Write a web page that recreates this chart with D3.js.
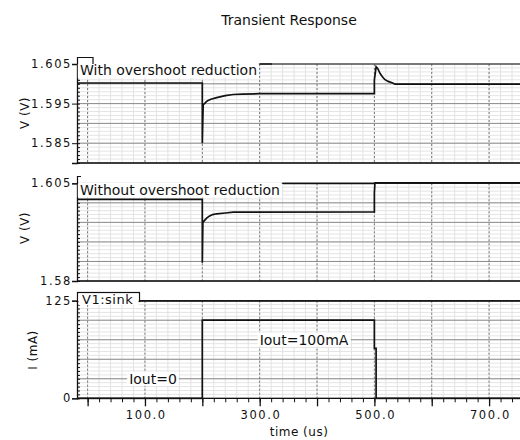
<!DOCTYPE html>
<html><head><meta charset="utf-8">
<script src="https://cdn.jsdelivr.net/npm/d3@7"></script>
<style>body{margin:0;background:#fff}svg{display:block}text{font-family:"DejaVu Sans",sans-serif}</style>
</head><body>
<svg id="c" width="520" height="440"></svg>
<script>
// ---- data ----
const xTickLabels = [100, 300, 500, 700];
const timeWith = [-18.5, 200, 200, 201.5, 204, 207, 210, 215, 225, 240, 254, 270, 300, 500, 500, 503, 506, 510, 514, 518, 524, 532, 536, 760];
const vWith    = [1.6002, 1.6002, 1.585, 1.5948, 1.5950, 1.5955, 1.5958, 1.5961, 1.5965, 1.5970, 1.5973, 1.5974, 1.5975, 1.5975, 1.6010, 1.6043, 1.6038, 1.6026, 1.6018, 1.6011, 1.6006, 1.6002, 1.5999, 1.5999];
const timeWithout = [-18.5, 200, 200, 201, 204, 207.5, 212, 218, 225, 240, 254, 500, 500, 501, 760];
const vWithout    = [1.6009, 1.6009, 1.5847, 1.5950, 1.5955, 1.5961, 1.5966, 1.5970, 1.5972, 1.5974, 1.5976, 1.5977, 1.6025, 1.6051, 1.6051];
const timeI = [-18.5, 200, 200, 500, 500, 503, 503, 760];
const iSink = [0, 0, 100, 100, 64, 64, 0, 0];
const panel1Ticks = [1.605, 1.595, 1.585];
const panel2Ticks = [1.605, 1.58];
const panel3Ticks = [125, 0];

const svg = d3.select("#c");
const X0 = 77, X1 = 523.5;
const x = d3.scaleLinear().domain([-18.5, 760]).range([X0, X1]);
const LS = 1.6; // tick label letter spacing

svg.append("text").attr("x", 289).attr("y", 25).attr("text-anchor", "middle")
  .attr("font-size", 14).attr("fill", "#111").text("Transient Response");

const defs = svg.append("defs");

function panel(opt) {
  const y = d3.scaleLinear().domain(opt.domain).range([opt.bottom, opt.top]);
  const g = svg.append("g");
  const cid = "clip" + opt.id;
  defs.append("clipPath").attr("id", cid).append("rect")
    .attr("x", X0).attr("y", opt.top - 1.5).attr("width", X1 - X0).attr("height", opt.bottom - opt.top + 3);
  const minorY = d3.range(opt.domain[0], opt.domain[1] + opt.minor / 2, opt.minor);
  g.selectAll(".mh").data(minorY).join("line")
    .attr("x1", X0).attr("x2", X1).attr("y1", d => y(d)).attr("y2", d => y(d))
    .attr("stroke", "#e4e4e4").attr("stroke-width", 1);
  const minorX = d3.range(0, 761, 20);
  g.selectAll(".mv").data(minorX).join("line")
    .attr("y1", opt.top).attr("y2", opt.bottom).attr("x1", d => x(d)).attr("x2", d => x(d))
    .attr("stroke", "#e2e2e2").attr("stroke-width", 1);
  const majorY = d3.range(opt.domain[0], opt.domain[1] + opt.major / 2, opt.major);
  g.selectAll(".Mh").data(majorY).join("line")
    .attr("x1", X0).attr("x2", X1).attr("y1", d => y(d)).attr("y2", d => y(d))
    .attr("stroke", "#8c8c8c").attr("stroke-width", 1);
  g.selectAll(".Mv").data(d3.range(0, 761, 100)).join("line")
    .attr("y1", opt.top).attr("y2", opt.bottom).attr("x1", d => x(d)).attr("x2", d => x(d))
    .attr("stroke", "#777").attr("stroke-width", 1).attr("stroke-dasharray", "2,2");
  g.append("line").attr("x1", X0).attr("x2", X1).attr("y1", opt.bottom).attr("y2", opt.bottom).attr("stroke", "#111").attr("stroke-width", 1.3);
  g.append("line").attr("x1", X0).attr("x2", X1).attr("y1", opt.top).attr("y2", opt.top).attr("stroke", "#333").attr("stroke-width", 1.2);
  const ax = d3.axisLeft(y).tickValues(opt.ticks).tickSize(5).tickFormat(opt.fmt);
  const ag = g.append("g").attr("transform", `translate(${X0},0)`).call(ax);
  ag.select(".domain").attr("stroke", "#111").attr("stroke-width", 1.3);
  ag.selectAll(".tick line").attr("stroke", "#111");
  ag.selectAll("text").attr("font-size", 11.5).attr("letter-spacing", LS).attr("fill", "#111").attr("x", -5);
  const ax2 = d3.axisRight(y).tickValues(minorY).tickSize(3).tickFormat("");
  const ag2 = g.append("g").attr("transform", `translate(${X0},0)`).call(ax2);
  ag2.select(".domain").remove();
  ag2.selectAll(".tick line").attr("stroke", "#111");
  g.append("text").attr("transform", `translate(${opt.titleX},${opt.titleY}) rotate(-90)`)
    .attr("text-anchor", "middle").attr("font-size", 12).attr("letter-spacing", 0.5).attr("fill", "#111").text(opt.title);
  const line = d3.line().x(d => x(d[0])).y(d => y(d[1]));
  g.append("path").datum(d3.zip(opt.t, opt.v)).attr("d", line)
    .attr("clip-path", `url(#${cid})`)
    .attr("fill", "none").attr("stroke", "#111").attr("stroke-width", 1.7);
  return {g, y};
}

const p1 = panel({id: 1, domain: [1.58, 1.605], top: 64, bottom: 163, minor: 0.001, major: 0.005,
  ticks: panel1Ticks, fmt: d3.format(".3f"), title: "V (V)", titleX: 29, titleY: 113, t: timeWith, v: vWith});
const p2 = panel({id: 2, domain: [1.58, 1.605], top: 183.3, bottom: 281, minor: 0.001, major: 0.005,
  ticks: panel2Ticks, fmt: d => d === 1.58 ? "1.58" : d3.format(".3f")(d), title: "V (V)", titleX: 29, titleY: 228, t: timeWithout, v: vWithout});
const p3 = panel({id: 3, domain: [0, 125], top: 300.7, bottom: 398.3, minor: 5, major: 25,
  ticks: panel3Ticks, fmt: d3.format("d"), title: "I (mA)", titleX: 37, titleY: 350, t: timeI, v: iSink});

function tag(px, py, text) {
  const t = svg.append("text").attr("x", px + 3).attr("y", py + 12.5).attr("font-size", 14).attr("fill", "#111").text(text);
  const bb = t.node().getBBox();
  svg.insert("rect", () => t.node()).attr("x", px + 0.8).attr("y", py).attr("width", bb.width + 4).attr("height", 15).attr("fill", "#fff");
  return px + bb.width + 6;
}
// panel 1
const e1 = tag(77, 62.9, "With overshoot reduction");
svg.append("path").attr("d", "M77.5,64 V57.5 H93 V64").attr("fill", "none").attr("stroke", "#111").attr("stroke-width", 1.2);
svg.append("line").attr("x1", e1).attr("x2", e1 + 12).attr("y1", 64).attr("y2", 64).attr("stroke", "#111").attr("stroke-width", 1.3);
// panel 2
const e2 = tag(77, 182.2, "Without overshoot reduction");
svg.append("path").attr("d", "M77.5,184 V176.5 H81").attr("fill", "none").attr("stroke", "#111").attr("stroke-width", 1.2);
svg.append("line").attr("x1", e2).attr("x2", 374).attr("y1", 183.5).attr("y2", 183.5).attr("stroke", "#111").attr("stroke-width", 1.3);
// panel 3
svg.append("rect").attr("x", 77.5).attr("y", 292.5).attr("width", 62).attr("height", 9).attr("fill", "#fff").attr("stroke", "#111").attr("stroke-width", 1.2);
svg.append("rect").attr("x", 78.5).attr("y", 294).attr("width", 60).attr("height", 11).attr("fill", "#fff");
svg.append("text").attr("x", 82).attr("y", 304).attr("font-size", 13).attr("letter-spacing", 0.5).attr("fill", "#111").text("V1:sink");
svg.append("line").attr("x1", 139).attr("x2", X1).attr("y1", 301).attr("y2", 301).attr("stroke", "#111").attr("stroke-width", 1.4);

function inlineLabel(cx, cy, text) {
  const t = svg.append("text").attr("x", cx).attr("y", cy + 5).attr("text-anchor", "middle")
    .attr("font-size", 14).attr("fill", "#111").text(text);
  const bb = t.node().getBBox();
  svg.insert("rect", () => t.node()).attr("x", bb.x - 2).attr("y", bb.y + 1).attr("width", bb.width + 4).attr("height", bb.height - 2).attr("fill", "#fff");
}
inlineLabel(153, p3.y(25), "Iout=0");
inlineLabel(304, p3.y(75), "Iout=100mA");

// x axis
const xMinor = d3.axisBottom(x).tickValues(d3.range(0, 761, 20)).tickSize(4).tickFormat("");
const xm = svg.append("g").attr("transform", "translate(0,398.3)").call(xMinor);
xm.select(".domain").remove();
xm.selectAll(".tick line").attr("stroke", "#111");
const xMajor = d3.axisBottom(x).tickValues(d3.range(0, 761, 100)).tickSize(8)
  .tickFormat(d => xTickLabels.includes(d) ? d3.format(".1f")(d) : "");
const xg = svg.append("g").attr("transform", "translate(0,398.3)").call(xMajor);
xg.select(".domain").remove();
xg.selectAll(".tick line").attr("stroke", "#111").attr("stroke-width", 1.3);
xg.selectAll("text").attr("font-size", 11.5).attr("letter-spacing", LS).attr("fill", "#111").attr("y", 13).attr("dx", LS / 2);
svg.append("text").attr("x", 299).attr("y", 436).attr("text-anchor", "middle").attr("font-size", 12).attr("letter-spacing", 0.5).attr("fill", "#111").text("time (us)");
</script>
</body></html>
